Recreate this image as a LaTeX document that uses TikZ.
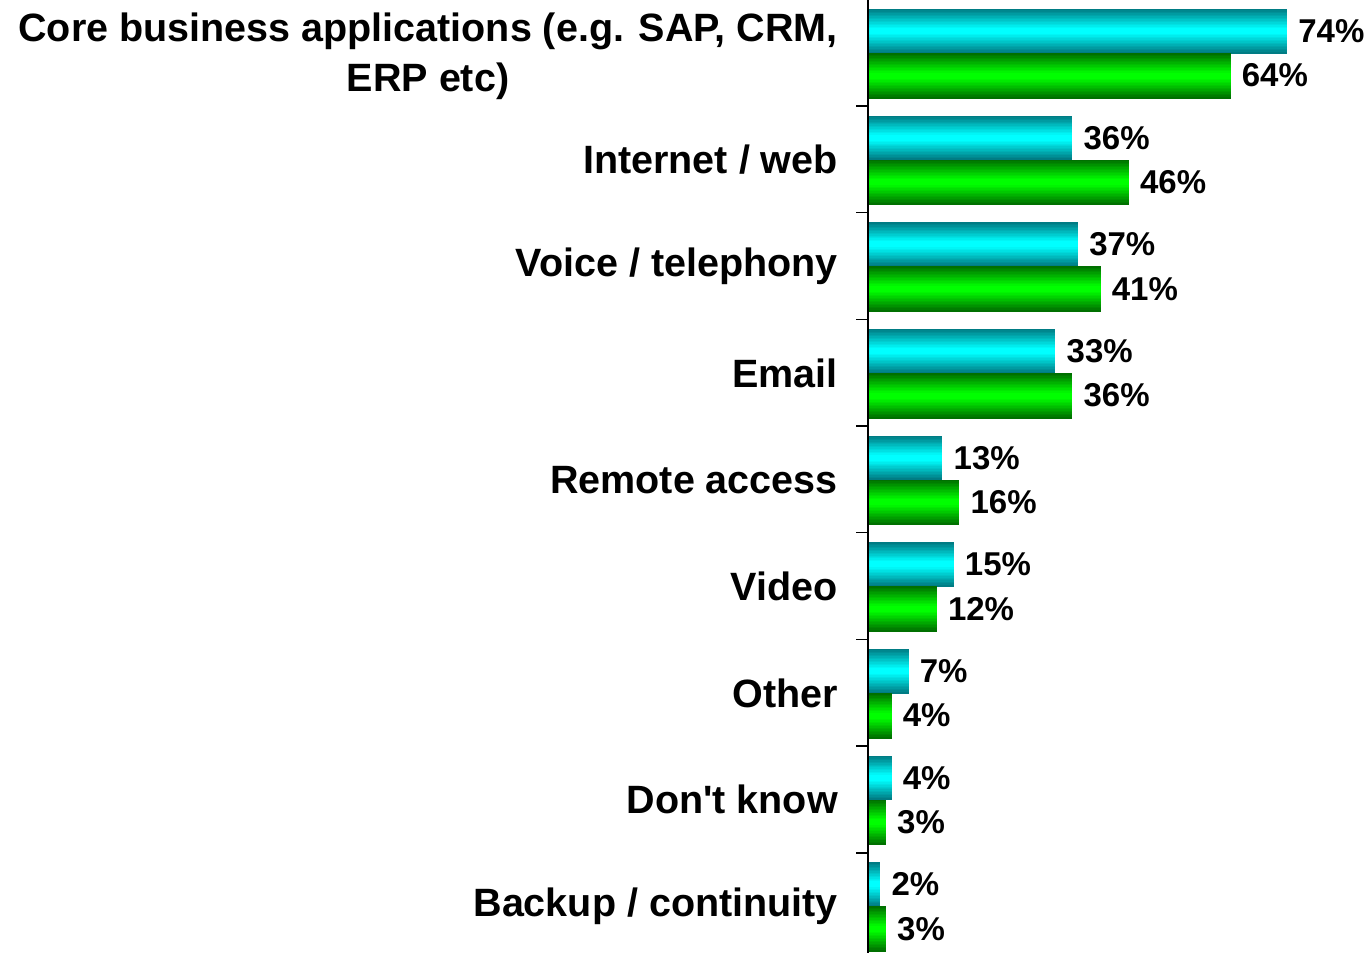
\documentclass[tikz,border=0pt]{standalone}
\usepackage{fontspec}
\setmainfont{Liberation Sans}
\definecolor{tealdark}{RGB}{0,120,128}
\definecolor{cyanlight}{RGB}{0,255,255}
\definecolor{greendark}{RGB}{0,108,0}
\definecolor{greenlight}{RGB}{0,255,0}
\tikzset{
  barframe/.style={inner sep=0pt, outer sep=0pt, anchor=north west},
  valuelabel/.style={anchor=west, inner sep=0pt, font=\bfseries\fontsize{33}{36}\selectfont},
  catlabel/.style={anchor=east, inner sep=0pt, align=center, font=\bfseries\fontsize{39.5}{50}\selectfont},
  axisline/.style={line width=2pt, black}
}
% horizontal bar with a cylinder-like vertical gradient, built from thin strips
% #1 x, #2 top y, #3 width, #4 height, #5 dark colour, #6 light colour
\newcommand{\gradbar}[6]{%
  \foreach \k in {0,...,29} {
    \pgfmathtruncatemacro{\mix}{min(100,225*min((\k+0.5)/30,1-(\k+0.5)/30))}
    \fill[#6!\mix!#5] (#1,{#2+#4*\k/30}) rectangle ({#1+#3},{#2+#4*(\k+1)/30+0.6});
  }%
}
\begin{document}
\begin{tikzpicture}[x=1pt,y=-1pt]
  \useasboundingbox (0,0) rectangle (1367,953);
  % bars, their values and the category names
  \foreach \i/\a/\b/\dy/\lab in {
      0/74/64/3/{Core business applications (e.g. SAP, CRM,\\ERP etc)},
      1/36/46/0/{Internet / web},
      2/37/41/0/{Voice / telephony},
      3/33/36/0/{Email},
      4/13/16/0/{Remote access},
      5/15/12/0/{Video},
      6/7/4/0/{Other},
      7/4/3/0/{Don\textquotesingle t know},
      8/2/3/0/{Backup / continuity}} {
    \pgfmathsetmacro{\ytop}{9+106.67*\i}
    \pgfmathsetmacro{\wa}{\a*5.65}
    \pgfmathsetmacro{\wb}{\b*5.65}
    \gradbar{869}{\ytop}{\wa}{44}{tealdark}{cyanlight}
    \gradbar{869}{\ytop+44}{\wb}{45}{greendark}{greenlight}
    \node[barframe, minimum width=\wa pt, minimum height=44pt] (c\i) at (869,\ytop) {};
    \node[barframe, minimum width=\wb pt, minimum height=45pt] (g\i) at (869,\ytop+44) {};
    \node[valuelabel] (cv\i) at ([xshift=11pt]c\i.east) {\a\%};
    \node[valuelabel] (gv\i) at ([xshift=11pt]g\i.east) {\b\%};
    \node[catlabel] (cat\i) at (838,\ytop+44+\dy) {\lab};
  }
  % value axis with tick marks between categories
  \coordinate (axtop) at (868,0);
  \coordinate (axbot) at (868,953);
  \draw[axisline] (axtop) -- (axbot);
  \foreach \i in {1,...,8} {
    \coordinate (tk\i) at (868,{106+106.67*(\i-1)});
    \draw[line width=1.6pt] (tk\i) -- ++(-12,0);
  }
\end{tikzpicture}
\end{document}
